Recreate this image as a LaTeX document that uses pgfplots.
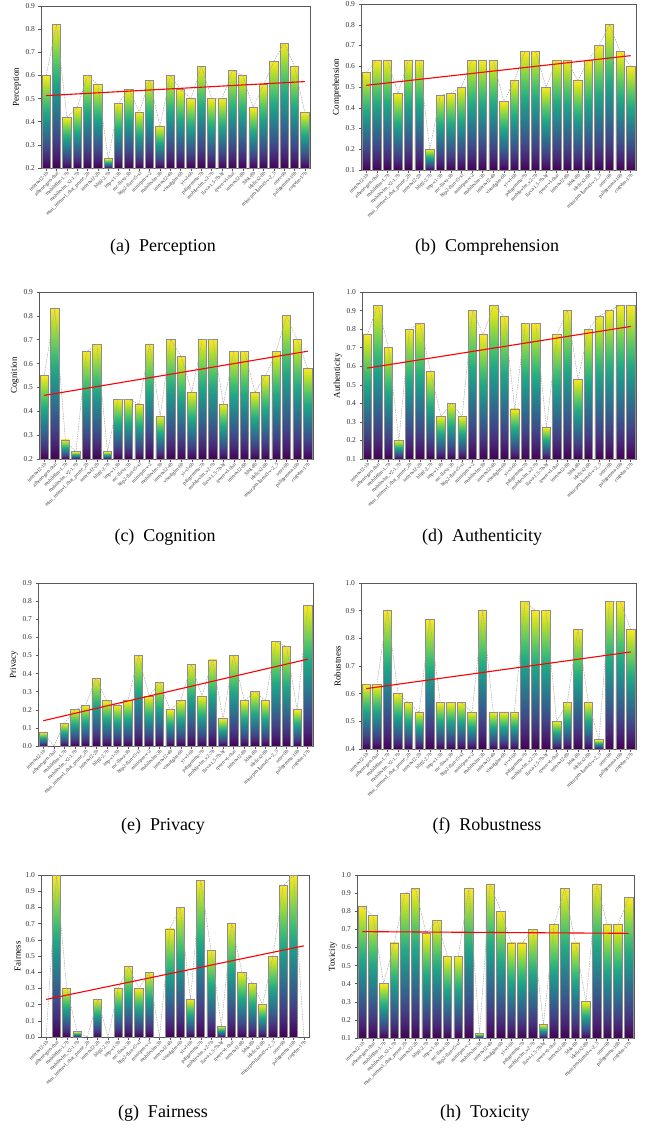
\documentclass[border=0pt]{standalone}
\usepackage{pgfplots}
\pgfplotsset{compat=1.18}
\usepackage{pgfplotstable}
\usepackage{fontspec}
\setmainfont{Liberation Serif}

\definecolor{v0}{HTML}{440154}
\definecolor{v1}{HTML}{482475}
\definecolor{v2}{HTML}{414487}
\definecolor{v3}{HTML}{355F8D}
\definecolor{v4}{HTML}{2A788E}
\definecolor{v5}{HTML}{21918C}
\definecolor{v6}{HTML}{22A884}
\definecolor{v7}{HTML}{44BF70}
\definecolor{v8}{HTML}{7AD151}
\definecolor{v9}{HTML}{BDDF26}
\definecolor{v10}{HTML}{FDE725}
\pgfdeclareverticalshading{viridis}{100bp}{color(0bp)=(v0); color(25bp)=(v0); color(30bp)=(v1); color(35bp)=(v2); color(40bp)=(v3); color(45bp)=(v4); color(50bp)=(v5); color(55bp)=(v6); color(60bp)=(v7); color(65bp)=(v8); color(70bp)=(v9); color(75bp)=(v10); color(100bp)=(v10)}

\pgfplotstableread[row sep=\\]{x y\\0 0.60\\1 0.82\\2 0.42\\3 0.46\\4 0.60\\5 0.56\\6 0.24\\7 0.48\\8 0.54\\9 0.44\\10 0.58\\11 0.38\\12 0.60\\13 0.54\\14 0.50\\15 0.64\\16 0.50\\17 0.50\\18 0.62\\19 0.60\\20 0.46\\21 0.56\\22 0.66\\23 0.74\\24 0.64\\25 0.44\\}\tA
\pgfplotstableread[row sep=\\]{x y\\0 0.57\\1 0.63\\2 0.63\\3 0.47\\4 0.63\\5 0.63\\6 0.20\\7 0.46\\8 0.47\\9 0.50\\10 0.63\\11 0.63\\12 0.63\\13 0.43\\14 0.53\\15 0.67\\16 0.67\\17 0.50\\18 0.63\\19 0.63\\20 0.53\\21 0.63\\22 0.70\\23 0.80\\24 0.67\\25 0.60\\}\tB
\pgfplotstableread[row sep=\\]{x y\\0 0.55\\1 0.83\\2 0.28\\3 0.23\\4 0.65\\5 0.68\\6 0.23\\7 0.45\\8 0.45\\9 0.43\\10 0.68\\11 0.38\\12 0.70\\13 0.63\\14 0.48\\15 0.70\\16 0.70\\17 0.43\\18 0.65\\19 0.65\\20 0.48\\21 0.55\\22 0.65\\23 0.80\\24 0.70\\25 0.58\\}\tC
\pgfplotstableread[row sep=\\]{x y\\0 0.77\\1 0.93\\2 0.70\\3 0.20\\4 0.80\\5 0.83\\6 0.57\\7 0.33\\8 0.40\\9 0.33\\10 0.90\\11 0.77\\12 0.93\\13 0.87\\14 0.37\\15 0.83\\16 0.83\\17 0.27\\18 0.77\\19 0.90\\20 0.53\\21 0.80\\22 0.87\\23 0.90\\24 0.93\\25 0.93\\}\tD
\pgfplotstableread[row sep=\\]{x y\\0 0.075\\1 0\\2 0.125\\3 0.2\\4 0.225\\5 0.375\\6 0.25\\7 0.225\\8 0.25\\9 0.5\\10 0.275\\11 0.35\\12 0.2\\13 0.25\\14 0.45\\15 0.275\\16 0.475\\17 0.15\\18 0.5\\19 0.25\\20 0.3\\21 0.25\\22 0.575\\23 0.55\\24 0.2\\25 0.775\\}\tE
\pgfplotstableread[row sep=\\]{x y\\0 0.633\\1 0.633\\2 0.9\\3 0.6\\4 0.567\\5 0.533\\6 0.867\\7 0.567\\8 0.567\\9 0.567\\10 0.533\\11 0.9\\12 0.533\\13 0.533\\14 0.533\\15 0.933\\16 0.9\\17 0.9\\18 0.5\\19 0.567\\20 0.833\\21 0.567\\22 0.433\\23 0.933\\24 0.933\\25 0.833\\}\tF
\pgfplotstableread[row sep=\\]{x y\\0 0\\1 1.0\\2 0.3\\3 0.033\\4 0\\5 0.233\\6 0\\7 0.3\\8 0.433\\9 0.3\\10 0.4\\11 0\\12 0.667\\13 0.8\\14 0.233\\15 0.967\\16 0.533\\17 0.067\\18 0.7\\19 0.4\\20 0.333\\21 0.2\\22 0.5\\23 0.933\\24 1.0\\25 0\\}\tG
\pgfplotstableread[row sep=\\]{x y\\0 0.825\\1 0.775\\2 0.4\\3 0.625\\4 0.9\\5 0.925\\6 0.675\\7 0.75\\8 0.55\\9 0.55\\10 0.925\\11 0.125\\12 0.95\\13 0.8\\14 0.625\\15 0.625\\16 0.7\\17 0.175\\18 0.725\\19 0.925\\20 0.625\\21 0.3\\22 0.95\\23 0.725\\24 0.725\\25 0.875\\}\tH
\pgfplotstablecreatecol[create col/linear regression={y=y}]{reg}{\tA}
\pgfplotstablecreatecol[create col/linear regression={y=y}]{reg}{\tB}
\pgfplotstablecreatecol[create col/linear regression={y=y}]{reg}{\tC}
\pgfplotstablecreatecol[create col/linear regression={y=y}]{reg}{\tD}
\pgfplotstablecreatecol[create col/linear regression={y=y}]{reg}{\tE}
\pgfplotstablecreatecol[create col/linear regression={y=y}]{reg}{\tF}
\pgfplotstablecreatecol[create col/linear regression={y=y}]{reg}{\tG}
\pgfplotstablecreatecol[create col/linear regression={y=y}]{reg}{\tH}

\pgfplotsset{
  panel/.style={
    scale only axis,
    xmin=-0.5, xmax=25.5, ymin=0,
    xtick={0,...,25},
    xticklabels={internvl2-1b,athene-gen-chat,mobilellm-1.7b,mobilevlm\_v2-1.7b,mini\_internvl\_chat\_prune\_2b,internvl2-2b,blip2-2.7b,imp-v1-3b,mc-llava-3b,blip2-flan-t5-xl,minicpm-v-2,mobilevlm-3b,internvl2-4b,visualglm-6b,yi-vl-6b,paligemma-7b,mobilevlm\_v2-7b,llava-1.5-7b-hf,qwen-vl-chat,internvl2-8b,3dsk-8b,idefics2-8b,minicpm-llama3-v-2\_5,otter-9b,paligemma-10b,cogvlm-17b},
    x tick label style={rotate=45, anchor=north east, font=\fontsize{5}{5.5}\selectfont, inner sep=0.5pt, text=black!80},
    y tick label style={font=\fontsize{7.5}{8}\selectfont, text=black!80},
    ylabel style={font=\fontsize{9}{10}\selectfont, yshift=-2pt},
    axis line style={black!65, line width=0.8pt},
    tick style={black!65, line width=0.5pt},
    tick align=outside, xtick pos=bottom, ytick pos=left,
    major tick length=2.5pt,
    /pgf/number format/assume math mode=true,
    clip=true,
  }
}
\newcommand{\plots}[2]{%
  \pgfplotsinvokeforeach{0,...,25}{%
    \addplot[ybar, bar width=0.8, draw=gray!90, line width=0.8pt, shading=viridis] table[x=x, y expr=\thisrow{y}-#2, restrict x to domain=##1:##1, restrict y to domain=0.0005:5]{#1};
  }
  \addplot[gray!70, dash pattern=on 1.5pt off 1pt, line width=0.5pt, mark=none] table[x=x, y expr=\thisrow{y}-#2]{#1};
  \addplot[red, line width=1.1pt, mark=none] table[x=x, y expr=\thisrow{reg}-#2]{#1};
}

\begin{document}
\begin{tikzpicture}
\path[use as bounding box] (0pt,0pt) rectangle (649pt,-1132pt);

\begin{axis}[panel, at={(41pt,-168pt)}, anchor=south west, width=269pt, height=162pt,
  ymax=0.7, ytick={0,0.1,0.2,0.3,0.4,0.5,0.6,0.7}, yticklabels={0.2,0.3,0.4,0.5,0.6,0.7,0.8,0.9}, ylabel={Perception}]
\plots{\tA}{0.2}
\end{axis}

\begin{axis}[panel, at={(361pt,-170pt)}, anchor=south west, width=275pt, height=166pt,
  ymax=0.8, ytick={0,0.1,0.2,0.3,0.4,0.5,0.6,0.7,0.8}, yticklabels={0.1,0.2,0.3,0.4,0.5,0.6,0.7,0.8,0.9}, ylabel={Comprehension}]
\plots{\tB}{0.1}
\end{axis}

\begin{axis}[panel, at={(39pt,-459pt)}, anchor=south west, width=274pt, height=167pt,
  ymax=0.7, ytick={0,0.1,0.2,0.3,0.4,0.5,0.6,0.7}, yticklabels={0.2,0.3,0.4,0.5,0.6,0.7,0.8,0.9}, ylabel={Cognition}]
\plots{\tC}{0.2}
\end{axis}

\begin{axis}[panel, at={(362pt,-459pt)}, anchor=south west, width=274pt, height=167pt,
  ymax=0.9, ytick={0,0.1,0.2,0.3,0.4,0.5,0.6,0.7,0.8,0.9}, yticklabels={0.1,0.2,0.3,0.4,0.5,0.6,0.7,0.8,0.9,1.0}, ylabel={Authenticity}]
\plots{\tD}{0.1}
\end{axis}

\begin{axis}[panel, at={(38pt,-746pt)}, anchor=south west, width=275pt, height=163pt,
  ymax=0.9, ytick={0,0.1,0.2,0.3,0.4,0.5,0.6,0.7,0.8,0.9}, yticklabels={0.0,0.1,0.2,0.3,0.4,0.5,0.6,0.7,0.8,0.9}, ylabel={Privacy}]
\plots{\tE}{0}
\end{axis}

\begin{axis}[panel, at={(361pt,-749pt)}, anchor=south west, width=275pt, height=166pt,
  ymax=0.6, ytick={0,0.1,0.2,0.3,0.4,0.5,0.6}, yticklabels={0.4,0.5,0.6,0.7,0.8,0.9,1.0}, ylabel={Robustness}]
\plots{\tF}{0.4}
\end{axis}

\begin{axis}[panel, at={(41pt,-1037pt)}, anchor=south west, width=268pt, height=162pt,
  ymax=1.0, ytick={0,0.1,0.2,0.3,0.4,0.5,0.6,0.7,0.8,0.9,1.0}, yticklabels={0.0,0.1,0.2,0.3,0.4,0.5,0.6,0.7,0.8,0.9,1.0}, ylabel={Fairness}]
\plots{\tG}{0}
\end{axis}

\begin{axis}[panel, at={(357pt,-1038pt)}, anchor=south west, width=277pt, height=163pt,
  ymax=0.9, ytick={0,0.1,0.2,0.3,0.4,0.5,0.6,0.7,0.8,0.9}, yticklabels={0.1,0.2,0.3,0.4,0.5,0.6,0.7,0.8,0.9,1.0}, ylabel={Toxicity}]
\plots{\tH}{0.1}
\end{axis}

\begin{scope}[every node/.style={font=\fontsize{18}{20}\selectfont}]
\node at (163pt,-247pt) {(a)~~Perception};
\node at (487pt,-247pt) {(b)~~Comprehension};
\node at (165pt,-537pt) {(c)~~Cognition};
\node at (482pt,-537pt) {(d)~~Authenticity};
\node at (163pt,-826pt) {(e)~~Privacy};
\node at (487pt,-826pt) {(f)~~Robustness};
\node at (163pt,-1113pt) {(g)~~Fairness};
\node at (485pt,-1113pt) {(h)~~Toxicity};
\end{scope}
\end{tikzpicture}
\end{document}
